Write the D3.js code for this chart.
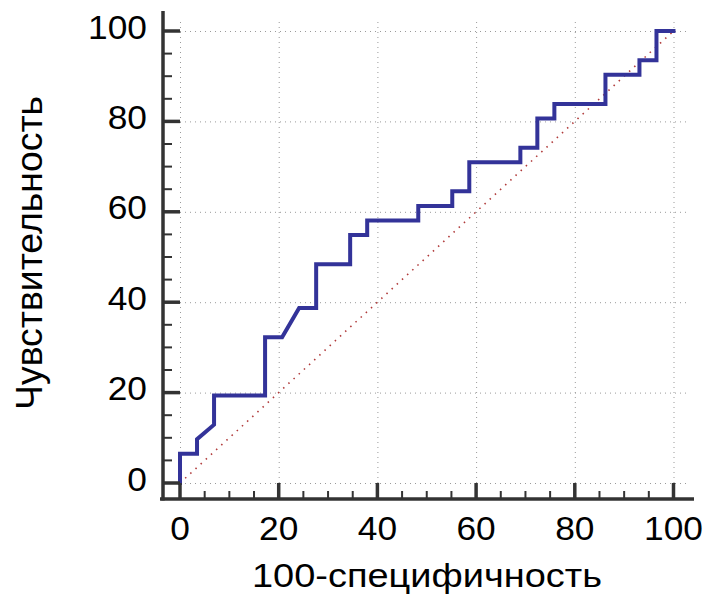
<!DOCTYPE html>
<html>
<head>
<meta charset="utf-8">
<script src="https://cdn.jsdelivr.net/npm/d3@7"></script>
<style>
  html, body { margin: 0; padding: 0; background: #fff; }
  svg { display: block; }
  text { font-family: "Liberation Sans", Arial, sans-serif; fill: #000; }
</style>
</head>
<body>
<svg id="chart" width="707" height="602"></svg>
<script>
// ROC curve vertices: 100-specificity (x) and sensitivity (y), in percent
const fpr = [0, 0, 3.45, 3.45, 6.9, 6.9, 17.24, 17.24, 20.69, 24.14, 27.59, 27.59,
  34.48, 34.48, 37.93, 37.93, 48.28, 48.28, 55.17, 55.17, 58.62, 58.62, 68.97, 68.97,
  72.41, 72.41, 75.86, 75.86, 86.21, 86.21, 93.10, 93.10, 96.55, 96.55, 100];
const tpr = [0, 6.45, 6.45, 9.68, 12.9, 19.35, 19.35, 32.26, 32.26, 38.71, 38.71, 48.39,
  48.39, 54.84, 54.84, 58.06, 58.06, 61.29, 61.29, 64.52, 64.52, 70.97, 70.97, 74.19,
  74.19, 80.65, 80.65, 83.87, 83.87, 90.32, 90.32, 93.55, 93.55, 100, 100];
// Chance diagonal
const diagonal = [0, 100];
// Axis ticks
const majorTicks = [0, 20, 40, 60, 80, 100];
const minorTicks = [5, 10, 15, 25, 30, 35, 45, 50, 55, 65, 70, 75, 85, 90, 95];
const xTitle = "100-специфичность";
const yTitle = "Чувствительность";

const svg = d3.select("#chart");
const x = d3.scaleLinear().domain([0, 100]).range([180, 673.5]);
const y = d3.scaleLinear().domain([0, 100]).range([483, 31]);

const axisX = 163;   // position of the vertical axis line
const axisY = 499;   // position of the horizontal axis line
const axisColor = "#333";
const labelStretch = 1.07; // slightly wide lettering for tick labels

// dotted grid
const grid = svg.append("g").attr("stroke", "#9a9a9a").attr("stroke-width", 1)
  .attr("stroke-dasharray", "1,4").attr("fill", "none");
grid.selectAll("line.h").data(majorTicks).join("line")
  .attr("x1", x(0)).attr("x2", x(102.8))
  .attr("y1", d => y(d) + 0.5).attr("y2", d => y(d) + 0.5);
grid.selectAll("line.v").data(majorTicks).join("line")
  .attr("x1", d => x(d) + 0.5).attr("x2", d => x(d) + 0.5)
  .attr("y1", y(0)).attr("y2", y(102.2));

// chance diagonal
svg.append("line")
  .attr("x1", x(diagonal[0])).attr("y1", y(diagonal[0]))
  .attr("x2", x(diagonal[1])).attr("y2", y(diagonal[1]))
  .attr("stroke", "#b03a3a").attr("stroke-width", 1.6)
  .attr("stroke-dasharray", "1.5,5.5");

// ROC curve
const pts = fpr.map((v, i) => [v, tpr[i]]);
svg.append("path")
  .attr("d", d3.line().x(d => x(d[0])).y(d => y(d[1]))(pts))
  .attr("fill", "none").attr("stroke", "#333399").attr("stroke-width", 4)
  .attr("stroke-linejoin", "miter").attr("stroke-linecap", "square");

// axes
const ax = svg.append("g").attr("stroke", axisColor);
ax.append("line").attr("x1", axisX).attr("x2", axisX).attr("y1", 11).attr("y2", axisY + 1.5)
  .attr("stroke-width", 3.5);
ax.append("line").attr("x1", axisX - 3).attr("x2", 694).attr("y1", axisY).attr("y2", axisY)
  .attr("stroke-width", 3.5);

// y ticks (pointing inward)
ax.selectAll("line.ym").data(majorTicks).join("line")
  .attr("x1", axisX).attr("x2", x(0)).attr("y1", d => y(d)).attr("y2", d => y(d))
  .attr("stroke-width", 3.5);
ax.selectAll("line.yn").data(minorTicks).join("line")
  .attr("x1", axisX).attr("x2", axisX + 9).attr("y1", d => y(d)).attr("y2", d => y(d))
  .attr("stroke-width", 2);
// x ticks (pointing inward)
ax.selectAll("line.xm").data(majorTicks).join("line")
  .attr("x1", d => x(d)).attr("x2", d => x(d)).attr("y1", axisY).attr("y2", y(0))
  .attr("stroke-width", 3.5);
ax.selectAll("line.xn").data(minorTicks).join("line")
  .attr("x1", d => x(d)).attr("x2", d => x(d)).attr("y1", axisY).attr("y2", axisY - 8)
  .attr("stroke-width", 2);

// tick labels
svg.append("g").selectAll("text").data(majorTicks).join("text")
  .attr("transform", d => `translate(147,${y(d) + 7.5}) scale(${labelStretch},1)`)
  .attr("text-anchor", "end").attr("font-size", 33)
  .text(d => d);
svg.append("g").selectAll("text").data(majorTicks).join("text")
  .attr("transform", d => `translate(${x(d)},540) scale(${labelStretch},1)`)
  .attr("text-anchor", "middle").attr("font-size", 33)
  .text(d => d);

// axis titles
svg.append("text").attr("x", 427).attr("y", 587).attr("text-anchor", "middle")
  .attr("font-size", 33).attr("textLength", 350).attr("lengthAdjust", "spacingAndGlyphs")
  .text(xTitle);
svg.append("text").attr("transform", "translate(41.5,253) rotate(-90)")
  .attr("text-anchor", "middle").attr("font-size", 37)
  .attr("textLength", 314).attr("lengthAdjust", "spacingAndGlyphs")
  .text(yTitle);
</script>
</body>
</html>
